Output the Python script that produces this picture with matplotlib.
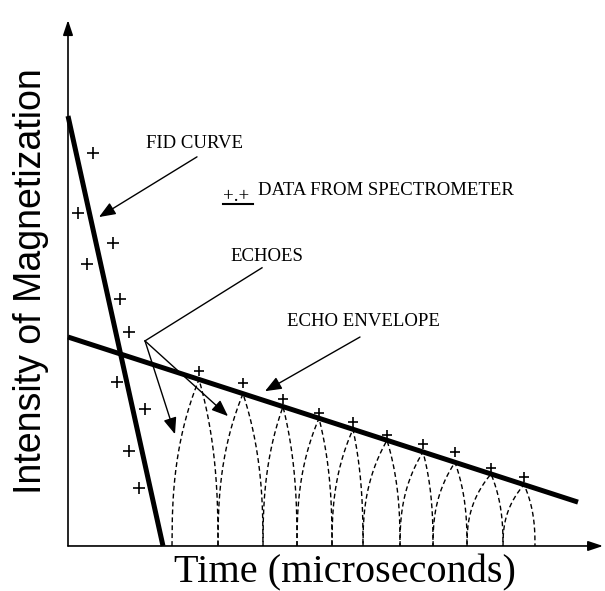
import numpy as np
import matplotlib.pyplot as plt

# FID points (time, intensity)
fid_t = [0.50, 0.20, 0.90, 0.38, 1.04, 1.22, 0.98, 1.54, 1.22, 1.42]
fid_I = [0.914, 0.774, 0.705, 0.656, 0.574, 0.498, 0.381, 0.319, 0.221, 0.135]

# echo maxima
echo_t = [2.62, 3.50, 4.30, 5.02, 5.70, 6.38, 7.10, 7.74, 8.46, 9.12]
echo_I = [0.407, 0.379, 0.342, 0.309, 0.288, 0.258, 0.237, 0.219, 0.181, 0.160]

# where the echo signal drops back to zero
trough_t = [2.08, 3.00, 3.90, 4.58, 5.28, 5.90, 6.64, 7.30, 7.98, 8.70, 9.34]

# fitted straight lines
fid_line_t = [0.0, 1.9]
fid_line_I = [1.0, 0.0]
env_line_t = [0.0, 10.2]
env_line_I = [0.486, 0.102]

fig = plt.figure(figsize=(6.05, 5.91), dpi=100)
ax = fig.add_axes([0, 0, 1, 1])
ax.set_xlim(-1.36, 10.74)
ax.set_ylim(-0.1047, 1.2698)
ax.axis('off')

# axes with arrow heads
axis_arrow = dict(arrowstyle='-|>,head_length=0.9,head_width=0.3', lw=1.2, color='k',
                  shrinkA=0, shrinkB=0)
ax.annotate('', xy=(0, 1.223), xytext=(0, 0), arrowprops=axis_arrow)
ax.annotate('', xy=(10.7, 0), xytext=(0, 0), arrowprops=axis_arrow)

# echo train: pointed arches between zero crossings
for k in range(len(echo_t)):
    tl, tr, tp = trough_t[k], trough_t[k + 1], echo_t[k]
    h = np.interp(tp, env_line_t, env_line_I)
    left = np.linspace(tl, tp, 80)
    right = np.linspace(tp, tr, 80)
    yl = h * np.clip(1 - (tp - left) / (tp - tl), 0, 1) ** 0.4
    yr = h * np.clip(1 - (right - tp) / (tr - tp), 0, 1) ** 0.4
    ax.plot(np.r_[left, right], np.r_[yl, yr], color='k', lw=1.0,
            linestyle=(0, (3.5, 2.2)))

ax.plot(fid_line_t, fid_line_I, color='k', lw=3.6, solid_capstyle='butt')
ax.plot(env_line_t, env_line_I, color='k', lw=3.6, solid_capstyle='butt')

ax.plot(fid_t, fid_I, '+', color='k', ms=9, mew=1.2)
ax.plot(echo_t, echo_I, '+', color='k', ms=7, mew=1.2)

# labels and pointers
lab = dict(family='Liberation Serif', fontsize=13.5, color='k', va='center', ha='left')
ptr = dict(arrowstyle='-|>,head_length=1.0,head_width=0.4', lw=1.0, color='k',
           shrinkA=0, shrinkB=0)

ax.text(1.56, 0.937, 'FID CURVE', **lab)
ax.annotate('', xy=(0.62, 0.765), xytext=(2.58, 0.905), arrowprops=ptr)

ax.text(3.10, 0.812, '+.+', **lab)
ax.plot([3.10, 3.70], [0.796, 0.796], color='k', lw=1.5)
ax.text(3.80, 0.826, 'DATA FROM SPECTROMETER', **lab)

ax.text(3.24, 0.674, 'ECHOES', **lab)
ax.plot([3.88, 1.54], [0.647, 0.477], color='k', lw=1.0)
ax.annotate('', xy=(2.14, 0.260), xytext=(1.54, 0.477), arrowprops=ptr)
ax.annotate('', xy=(3.20, 0.302), xytext=(1.54, 0.477), arrowprops=ptr)

ax.text(4.38, 0.523, 'ECHO ENVELOPE', **lab)
ax.annotate('', xy=(3.94, 0.360), xytext=(5.84, 0.486), arrowprops=ptr)

ax.text(5.54, -0.063, 'Time (microseconds)', family='Liberation Serif', fontsize=29,
        ha='center', va='center')
ax.text(-0.74, 0.615, 'Intensity of Magnetization', family='Liberation Sans',
        fontsize=27, rotation=90, ha='center', va='center')

fig.savefig('out.png', dpi=100)
